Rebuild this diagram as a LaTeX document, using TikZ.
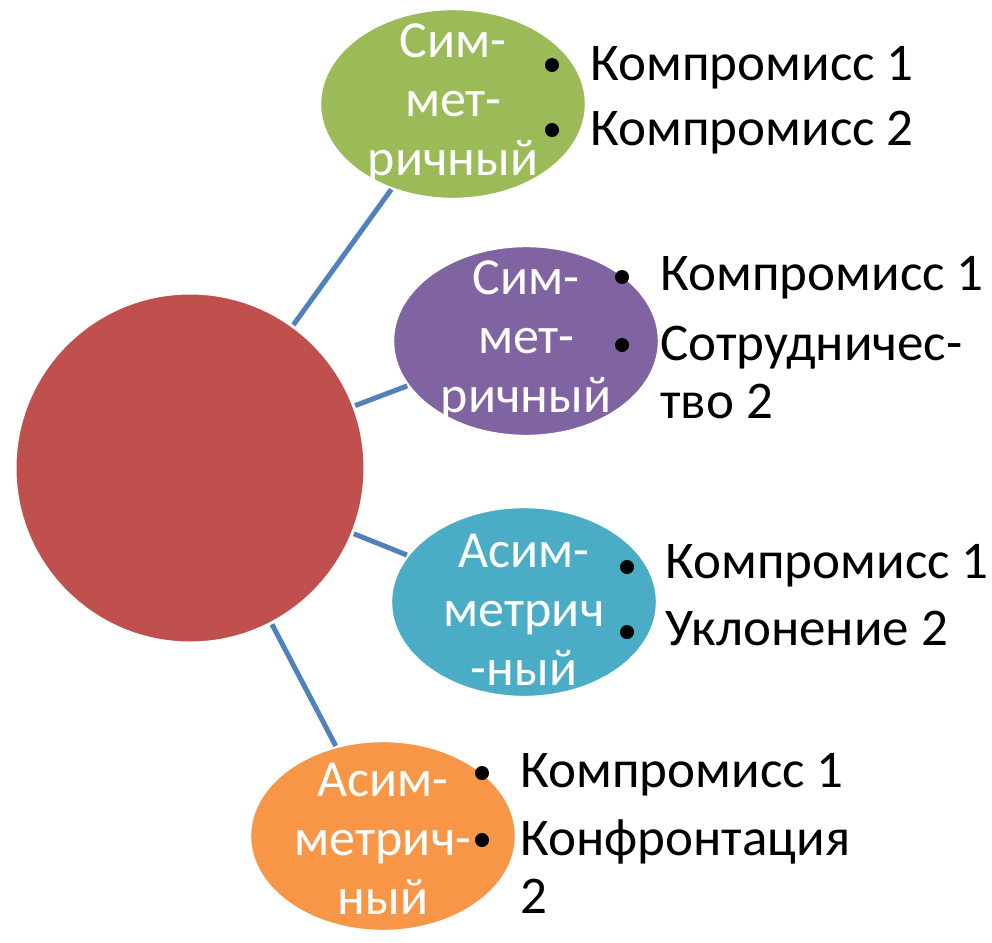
\documentclass[tikz,border=0pt]{standalone}
\usepackage{fontspec}
\setmainfont{Carlito}
\usetikzlibrary{shapes.geometric}
\definecolor{hubred}{HTML}{C0504D}
\definecolor{symgreen}{HTML}{9BBB59}
\definecolor{sympurple}{HTML}{8064A2}
\definecolor{asymteal}{HTML}{4BACC6}
\definecolor{asymorange}{HTML}{F79646}
\definecolor{linkblue}{HTML}{4F81BD}
\tikzset{
  hub/.style={circle, fill=hubred, draw=white, line width=1.5pt, minimum size=175pt, inner sep=0pt},
  kind/.style={ellipse, draw=white, line width=1.2pt, minimum width=133pt, minimum height=95pt, inner sep=0pt},
  kindtext/.style={align=center, text=white, inner sep=0pt, font=\fontsize{26}{29.5}\selectfont},
  bulletdot/.style={circle, fill=black, minimum size=7pt, inner sep=0pt},
  item/.style={anchor=base west, align=left, inner sep=0pt, font=\fontsize{26.5}{29}\selectfont},
  link/.style={draw=linkblue, line width=2.5pt}
}
\begin{document}
\begin{tikzpicture}[x=0.5pt, y=-0.5pt]
            \useasboundingbox (0,0) rectangle (992,943);
            \node[hub] (core) at (190,468) {};
            \node[kind, fill=symgreen] (sym1) at (453,104) {};
            \node[kind, fill=sympurple] (sym2) at (526,341) {};
            \node[kind, fill=asymteal] (asym1) at (524,602) {};
            \node[kind, fill=asymorange] (asym2) at (383,836) {};
            \draw[link] (core) -- (sym1);
            \draw[link] (core) -- (sym2);
            \draw[link] (core) -- (asym1);
            \draw[link] (core) -- (asym2);
            \node[kindtext] (sym1-t) at (sym1) {Сим-\\мет-\\ричный};
            \node[kindtext] (sym2-t) at (sym2) {Сим-\\мет-\\ричный};
            \node[kindtext] (asym1-t) at (524,610) {Асим-\\метрич\\-ный};
            \node[kindtext] (asym2-t) at (383,839) {Асим-\\метрич-\\ный};
            % items of the first pair
            \node[bulletdot] (b11) at (552,65) {};
            \node[bulletdot] (b12) at (552,130) {};
            \node[item] (i11) at (590,80) {Компромисс 1};
            \node[item] (i12) at (590,145) {Компромисс 2};
            % items of the second pair
            \node[bulletdot] (b21) at (622,277) {};
            \node[bulletdot] (b22) at (622,345) {};
            \node[item] (i21) at (660,290) {Компромисс 1};
            \node[item] (i22) at (660,418) {Сотрудничес-\\тво 2};
            % items of the third pair
            \node[bulletdot] (b31) at (627,567) {};
            \node[bulletdot] (b32) at (627,632) {};
            \node[item] (i31) at (665,578) {Компромисс 1};
            \node[item] (i32) at (665,645) {Уклонение 2};
            % items of the fourth pair
            \node[bulletdot] (b41) at (482,773) {};
            \node[bulletdot] (b42) at (482,840) {};
            \node[item] (i41) at (520,787) {Компромисс 1};
            \node[item] (i42) at (520,913) {Конфронтация\\2};
        \end{tikzpicture}
\end{document}
